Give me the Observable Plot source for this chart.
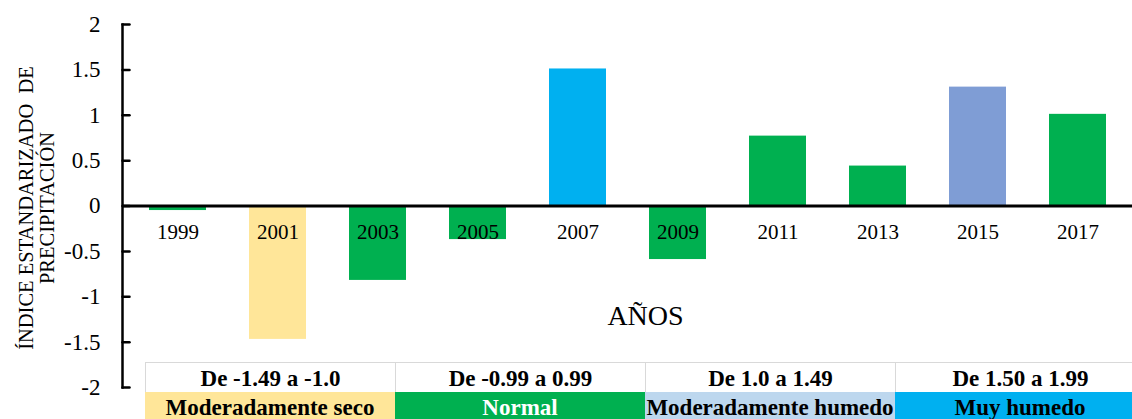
<!DOCTYPE html>
<html>
<head>
<meta charset="utf-8">
<script src="https://cdn.jsdelivr.net/npm/d3@7"></script>
<script src="https://cdn.jsdelivr.net/npm/@observablehq/plot@0.6"></script>
<style>
  body { margin: 0; background: #fff; }
  #wrap { position: relative; width: 1132px; height: 419px; overflow: hidden; font-family: "Liberation Serif", "Times New Roman", serif; }
  #wrap svg text { font-family: "Liberation Serif", "Times New Roman", serif; }
  #legend { position: absolute; left: 145px; top: 362px; display: grid; grid-template-columns: repeat(4, 250px); grid-template-rows: 30px 30px; font-family: "Liberation Serif", "Times New Roman", serif; }
  #legend div { display: flex; align-items: center; justify-content: center; font-weight: bold; font-size: 23px; box-sizing: border-box; white-space: nowrap; font-family: "Liberation Serif", "Times New Roman", serif; }
  #legend .range { background: #fff; border-top: 1px solid #d9d9d9; border-left: 1px solid #d9d9d9; padding-top: 2px; }
  #legend .name { padding-top: 2px; }
</style>
</head>
<body>
<div id="wrap"></div>
<script>
// Standardized precipitation index by year
const years = ["1999", "2001", "2003", "2005", "2007", "2009", "2011", "2013", "2015", "2017"];
const values = [-0.05, -1.47, -0.82, -0.37, 1.51, -0.59, 0.77, 0.44, 1.31, 1.01];
const classes = ["Normal", "Moderadamente seco", "Normal", "Normal", "Muy humedo", "Normal", "Normal", "Normal", "Moderadamente humedo", "Normal"];

// Bar colour per class
const classNames = ["Moderadamente seco", "Normal", "Moderadamente humedo", "Muy humedo"];
const classBarColors = ["#FFE699", "#00B050", "#7F9DD5", "#00B0F0"];

// Y ticks
const yTicks = [-2, -1.5, -1, -0.5, 0, 0.5, 1, 1.5, 2];

// Class table under the chart
const legendRanges = ["De -1.49 a -1.0", "De -0.99 a 0.99", "De 1.0 a 1.49", "De 1.50 a 1.99"];
const legendNames = ["Moderadamente seco", "Normal", "Moderadamente humedo", "Muy humedo"];
const legendFills = ["#FFE699", "#00B050", "#BDD7EE", "#00B0F0"];
const legendTextColors = ["#000", "#fff", "#000", "#000"];

const data = years.map((year, i) => ({year, value: values[i], cls: classes[i]}));

const serif = "'Liberation Serif', 'Times New Roman', serif";
const tickShape = {draw(context, l) { context.moveTo(0, 0); context.lineTo(0, -l); }};

const chart = Plot.plot({
  width: 1132,
  height: 419,
  marginTop: 24,
  marginBottom: 32,
  marginLeft: 122,
  marginRight: 0,
  style: {fontFamily: serif, color: "#000", background: "#fff", overflow: "visible"},
  x: {domain: years, paddingInner: 0.43, paddingOuter: 0.22, axis: null},
  y: {domain: [-2, 2], label: null},
  color: {domain: classNames, range: classBarColors},
  marks: [
    Plot.barY(data, {x: "year", y: "value", fill: "cls"}),
    Plot.ruleY([0], {stroke: "#000", strokeWidth: 3}),
    Plot.frame({anchor: "left", stroke: "#000", strokeWidth: 2.5}),
    Plot.vector(yTicks, {y: d => d, frameAnchor: "left", length: 7, rotate: 90, anchor: "start", stroke: "#000", strokeWidth: 2.5, shape: tickShape}),
    Plot.axisY(yTicks, {tickSize: 0, tickPadding: 22, fontSize: 23, fontFamily: serif, tickFormat: d => String(d), fill: "#000"}),
    Plot.text(data, {x: "year", y: 0, dy: 26, text: "year", fontSize: 21, fontFamily: serif, fill: "#000", lineAnchor: "middle"}),
    Plot.text(["AÑOS"], {frameAnchor: "middle", dx: 18, dy: 110, fontSize: 28, fontFamily: serif, fill: "#000", lineAnchor: "middle"}),
    Plot.text(["ÍNDICE ESTANDARIZADO  DE\nPRECIPITACIÓN"], {frameAnchor: "left", dx: -86, dy: 2, rotate: -90, fontSize: 20.5, fontFamily: serif, lineHeight: 1.03, textAnchor: "middle", lineAnchor: "middle", fill: "#000"})
  ]
});

const wrap = document.getElementById("wrap");
wrap.appendChild(chart);
chart.querySelectorAll("text").forEach(t => t.setAttribute("xml:space", "preserve"));

const legend = document.createElement("div");
legend.id = "legend";
legendRanges.forEach(r => {
  const cell = document.createElement("div");
  cell.className = "range";
  cell.textContent = r;
  legend.appendChild(cell);
});
legendNames.forEach((n, i) => {
  const cell = document.createElement("div");
  cell.className = "name";
  cell.textContent = n;
  cell.style.background = legendFills[i];
  cell.style.color = legendTextColors[i];
  legend.appendChild(cell);
});
wrap.appendChild(legend);
</script>
</body>
</html>
